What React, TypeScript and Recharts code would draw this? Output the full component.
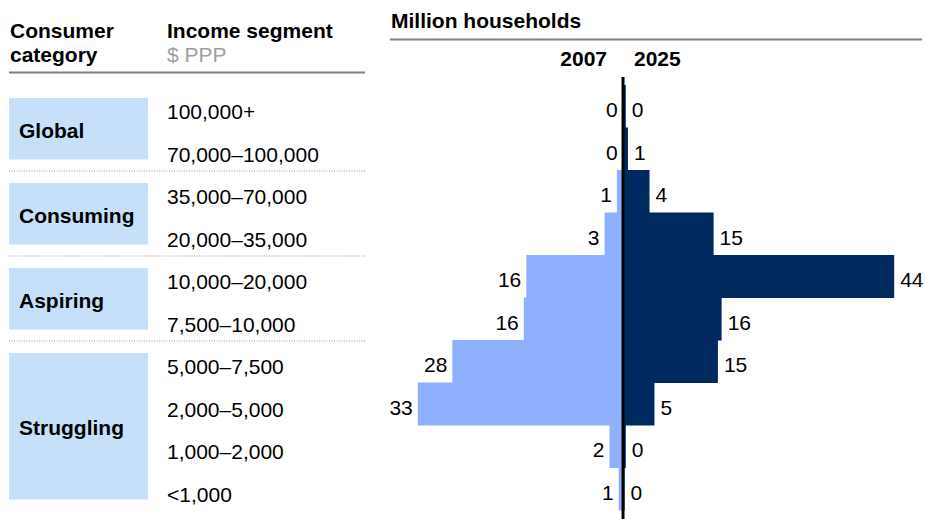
import React from 'react';
import { BarChart, Bar, XAxis, YAxis, ReferenceLine, LabelList } from 'recharts';

const incomeSegments = [
  '100,000+',
  '70,000–100,000',
  '35,000–70,000',
  '20,000–35,000',
  '10,000–20,000',
  '7,500–10,000',
  '5,000–7,500',
  '2,000–5,000',
  '1,000–2,000',
  '<1,000',
];
const households2007 = [0.05, 0.05, 1.0, 3.0, 15.7, 16.1, 27.7, 33.3, 2.2, 0.7];
const households2025 = [0.45, 0.8, 4.3, 14.7, 44, 16, 15.4, 5.1, 0.45, 0.25];
const consumerCategories = ['Global', 'Consuming', 'Aspiring', 'Struggling'];
const categoryRowCounts = [2, 2, 2, 4];
const seriesNames = ['2007', '2025'];

const FONT = '"Liberation Sans", Arial, Helvetica, sans-serif';
const FS = 21;
const LIGHT = '#8fb0ff';
const DARK = '#002960';
const BOX = '#c6e0fa';

const data = incomeSegments.map((segment, i) => ({
  segment,
  y2007: -households2007[i],
  y2025: households2025[i],
}));

const PLOT_TOP = 85;
const ROW_H = 42.5;

const fmt = (v: any) => {
  const n = Array.isArray(v) ? v[v.length - 1] : v;
  return String(Math.round(Math.abs(Number(n))));
};

const LeftLabel = (p: any) => {
  const { x, y, width, height, value } = p;
  const left = Math.min(x, x + width);
  return (
    <text x={left - 5} y={y + height / 2 + 10.8} textAnchor="end" fontSize={FS} fontFamily={FONT} fill="#000">
      {fmt(value)}
    </text>
  );
};

const RightLabel = (p: any) => {
  const { x, y, width, height, value } = p;
  const right = Math.max(x, x + width);
  return (
    <text x={right + 6} y={y + height / 2 + 10.8} textAnchor="start" fontSize={FS} fontFamily={FONT} fill="#000">
      {fmt(value)}
    </text>
  );
};

const IncomeTick = (p: any) => {
  const { y, payload } = p;
  return (
    <text x={167} y={y + 12.8} textAnchor="start" fontSize={FS} fontFamily={FONT} fill="#000">
      {payload.value}
    </text>
  );
};

const AxisLine = (p: any) => (
  <line
    x1={p.x1}
    x2={p.x2}
    y1={Math.min(p.y1, p.y2) - 8}
    y2={Math.max(p.y1, p.y2) + 9}
    stroke="#000"
    strokeWidth={3}
  />
);

function Overlay() {
  let start = 0;
  const groups = consumerCategories.map((name, gi) => {
    const top = PLOT_TOP + start * ROW_H;
    const bottom = top + categoryRowCounts[gi] * ROW_H;
    start += categoryRowCounts[gi];
    return { name, top, bottom, gi };
  });
  return (
    <svg width={925} height={519} style={{ position: 'absolute', left: 0, top: 0 }}>
      <text x={10} y={37.5} fontSize={FS} fontWeight="bold" fontFamily={FONT} fill="#000">Consumer</text>
      <text x={10} y={61.5} fontSize={FS} fontWeight="bold" fontFamily={FONT} fill="#000">category</text>
      <text x={167} y={37.5} fontSize={FS} fontWeight="bold" fontFamily={FONT} fill="#000">Income segment</text>
      <text x={167} y={61.5} fontSize={FS} fontFamily={FONT} fill="#a0a0a0">$ PPP</text>
      <line x1={9} x2={365} y1={72.5} y2={72.5} stroke="#808080" strokeWidth={2} />
      <text x={391} y={28} fontSize={FS} fontWeight="bold" fontFamily={FONT} fill="#000">Million households</text>
      <line x1={390} x2={922} y1={39.5} y2={39.5} stroke="#808080" strokeWidth={2} />
      <text x={607} y={65.5} textAnchor="end" fontSize={FS} fontWeight="bold" fontFamily={FONT} fill="#000">{seriesNames[0]}</text>
      <text x={634} y={65.5} textAnchor="start" fontSize={FS} fontWeight="bold" fontFamily={FONT} fill="#000">{seriesNames[1]}</text>
      {groups.map((g) => {
        const sepTop = g.gi === 0 ? g.top : g.top + 1;
        const sepBottom = g.bottom + 1;
        const boxTop = g.gi === 0 ? 98 : sepTop + 12;
        const boxBottom = sepBottom - 11.5;
        return (
          <g key={g.name}>
            <rect x={9} y={boxTop} width={139} height={boxBottom - boxTop} fill={BOX} />
            <text x={19} y={(boxTop + boxBottom) / 2 + 8.8} fontSize={FS} fontWeight="bold" fontFamily={FONT} fill="#000">
              {g.name}
            </text>
            {g.gi < consumerCategories.length - 1 && (
              <line x1={9} x2={365} y1={sepBottom} y2={sepBottom} stroke="#9a9a9a" strokeWidth={1} strokeDasharray="1 1.5" />
            )}
          </g>
        );
      })}
    </svg>
  );
}

export default function App() {
  return (
    <div style={{ position: 'fixed', left: 0, top: 0, width: 925, height: 519, background: '#fff' }}>
      <Overlay />
      <div style={{ position: 'absolute', left: 0, top: 0 }}>
        <BarChart
          width={925}
          height={519}
          data={data}
          layout="vertical"
          stackOffset="sign"
          barCategoryGap={0}
          barGap={0}
          margin={{ top: PLOT_TOP, right: 0, bottom: 9, left: 0 }}
        >
          <XAxis type="number" domain={[-37, 49]} hide allowDataOverflow />
          <YAxis
            type="category"
            dataKey="segment"
            width={395}
            axisLine={false}
            tickLine={false}
            interval={0}
            tick={IncomeTick}
          />
          <Bar dataKey="y2007" stackId="a" fill={LIGHT} isAnimationActive={false}>
            <LabelList dataKey="y2007" content={LeftLabel} />
          </Bar>
          <Bar dataKey="y2025" stackId="a" fill={DARK} isAnimationActive={false}>
            <LabelList dataKey="y2025" content={RightLabel} />
          </Bar>
          <ReferenceLine x={0} stroke="#000" strokeWidth={3} shape={AxisLine} />
        </BarChart>
      </div>
    </div>
  );
}
